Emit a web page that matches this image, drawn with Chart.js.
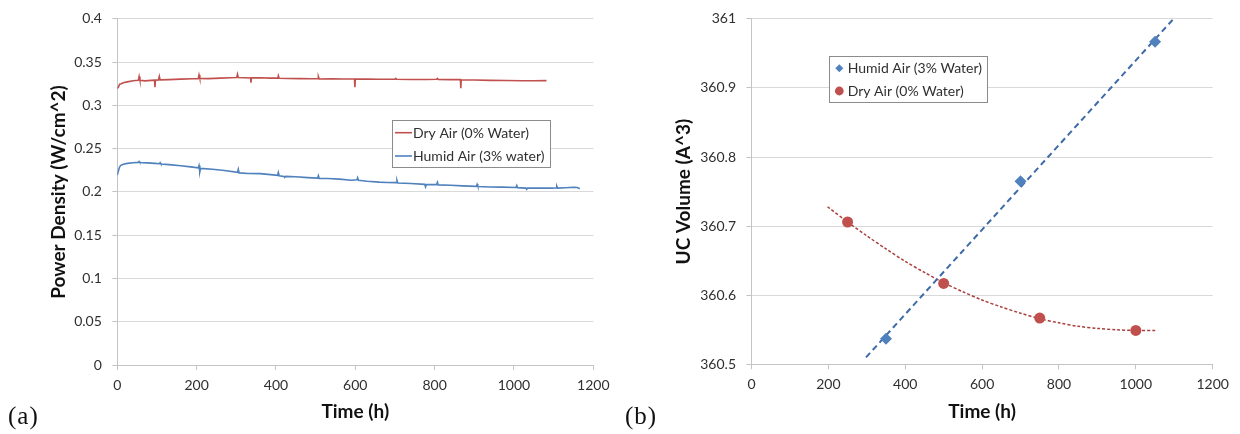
<!DOCTYPE html>
<html><head><meta charset="utf-8">
<script src="https://cdn.jsdelivr.net/npm/chart.js@4.4.1/dist/chart.umd.min.js"></script>
<style>
html,body{margin:0;padding:0;background:#fff;}
#wrap{position:relative;width:1240px;height:434px;overflow:hidden;background:#fff;}
canvas{position:absolute;top:0;}
.tag{position:absolute;font-family:"Liberation Serif","DejaVu Serif",serif;font-size:25px;color:#111;line-height:1;letter-spacing:1px;}
</style></head><body>
<div id="wrap">
<canvas id="c1" width="620" height="434" style="left:0"></canvas>
<canvas id="c2" width="620" height="434" style="left:620px"></canvas>
<div class="tag" style="left:8px;top:403px">(a)</div>
<div class="tag" style="left:625px;top:403px">(b)</div>
</div>
<script>
// ---------- Panel (a): power density vs time ----------
const seriesA = ['Dry Air (0% Water)', 'Humid Air (3% water)'];
const dryTime = [0,3,6,10,15,25,40,53,55,57,70,85,94,95,96,104,106,108,130,160,190,204,206,208,230,260,285,301,303,305,320,336,337,338,360,385,405,406,408,430,460,490,506,507,509,540,570,598,599,600,630,660,700,702,704,740,780,805,807,809,840,865,866,867,900,940,980,1020,1050,1082];
const dryPower = [0.3195,0.3215,0.3245,0.3250,0.3262,0.3272,0.3285,0.3290,0.3335,0.3290,0.3284,0.3290,0.3292,0.3210,0.3292,0.3295,0.3335,0.3295,0.3298,0.3304,0.3308,0.3310,0.3352,0.3312,0.3310,0.3316,0.3320,0.3322,0.3360,0.3322,0.3320,0.3318,0.3262,0.3318,0.3320,0.3316,0.3316,0.3342,0.3314,0.3312,0.3310,0.3308,0.3308,0.3333,0.3306,0.3308,0.3306,0.3305,0.3210,0.3305,0.3304,0.3302,0.3304,0.3312,0.3302,0.3300,0.3300,0.3302,0.3312,0.3300,0.3298,0.3298,0.3198,0.3297,0.3293,0.3290,0.3288,0.3286,0.3286,0.3287];
const humidTime = [0,2,5,8,15,25,40,53,55,57,75,95,106,108,110,130,160,185,204,206,208,210,240,270,303,305,307,330,360,380,404,406,408,420,422,424,450,480,505,507,509,530,560,590,604,606,608,630,660,680,703,705,707,740,775,777,779,805,807,809,840,870,905,907,909,940,970,1005,1007,1009,1030,1032,1034,1060,1090,1106,1108,1110,1130,1150,1160,1166];
const humidPower = [0.2195,0.2230,0.2280,0.2304,0.2320,0.2330,0.2338,0.2342,0.2352,0.2340,0.2336,0.2330,0.2326,0.2338,0.2322,0.2316,0.2302,0.2290,0.2278,0.2305,0.2232,0.2272,0.2262,0.2248,0.2226,0.2262,0.2220,0.2214,0.2212,0.2203,0.2192,0.2225,0.2188,0.2178,0.2168,0.2180,0.2176,0.2166,0.2160,0.2188,0.2156,0.2156,0.2148,0.2136,0.2140,0.2165,0.2134,0.2124,0.2114,0.2110,0.2108,0.2134,0.2104,0.2098,0.2088,0.2058,0.2086,0.2085,0.2112,0.2082,0.2078,0.2070,0.2064,0.2088,0.2062,0.2058,0.2056,0.2052,0.2075,0.2050,0.2044,0.2030,0.2044,0.2046,0.2044,0.2046,0.2066,0.2044,0.2048,0.2054,0.2052,0.2038];
const xTicksA = {min: 0, max: 1200, step: 200};
const yTicksA = {min: 0, max: 0.4, step: 0.05};

// ---------- Panel (b): UC volume vs time ----------
const seriesB = ['Humid Air (3% Water)', 'Dry Air (0% Water)'];
const humidXrdTime = [350, 700, 1050];
const humidVolume = [360.537, 360.765, 360.967];
const dryXrdTime = [250, 500, 750, 1000];
const dryVolume = [360.706, 360.617, 360.567, 360.549];
const humidTrendTime = [298, 1098];
const humidTrendVolume = [360.510, 361.000];
const dryTrendTime = [198,250,300,350,400,450,500,550,600,650,700,750,800,850,900,950,1000,1052];
const dryTrendVolume = [360.728,360.706,360.686,360.667,360.649,360.633,360.618,360.605,360.593,360.583,360.574,360.566,360.560,360.555,360.552,360.550,360.549,360.549];
const xTicksB = {min: 0, max: 1200, step: 200};
const yTicksB = {min: 360.5, max: 361, step: 0.1};

const RED = '#C0504D', BLUE = '#4F81BD';
const GRID = '#D9D9D9', AXIS = '#C4C4C4', TXT = '#303030';
const FONT = 'Lato, "Open Sans", sans-serif';

const pts = (xs, ys) => xs.map((x, i) => ({x: x, y: ys[i]}));

const boxLegend = {
  id: 'boxLegend',
  afterDatasetsDraw(chart, args, o) {
    if (!o || !o.items) return;
    const ctx = chart.ctx;
    ctx.save();
    ctx.fillStyle = '#fff';
    ctx.fillRect(o.x, o.y, o.w, o.h);
    ctx.strokeStyle = '#8C8C8C';
    ctx.lineWidth = 1;
    ctx.strokeRect(Math.round(o.x) + 0.5, Math.round(o.y) + 0.5, o.w, o.h);
    ctx.font = o.font;
    ctx.textBaseline = 'middle';
    ctx.textAlign = 'left';
    o.items.forEach((idx, i) => {
      const ds = chart.data.datasets[idx];
      const cy = o.y + o.rowTop + i * o.rowGap;
      const sx = o.x + o.symX;
      ctx.fillStyle = ds.borderColor;
      ctx.strokeStyle = ds.borderColor;
      if (ds.pointRadius === 0) {
        ctx.lineWidth = 1.6;
        ctx.beginPath();
        ctx.moveTo(sx, cy); ctx.lineTo(sx + o.lineLen, cy);
        ctx.stroke();
      } else if (ds.pointStyle === 'rectRot') {
        const r = o.diam;
        ctx.beginPath();
        ctx.moveTo(sx, cy - r); ctx.lineTo(sx + r, cy); ctx.lineTo(sx, cy + r); ctx.lineTo(sx - r, cy);
        ctx.closePath(); ctx.fill();
      } else {
        ctx.beginPath();
        ctx.arc(sx, cy, o.circ, 0, Math.PI * 2);
        ctx.fill();
      }
      ctx.fillStyle = TXT;
      ctx.fillText(ds.label, o.x + o.textX, cy + 0.5);
    });
    ctx.restore();
  }
};

function axisX(t, title, h) {
  return {
    type: 'linear', min: t.min, max: t.max,
    ticks: {stepSize: t.step, color: TXT, font: {family: FONT, size: 14}, padding: 7, maxRotation: 0,
      callback: v => String(v)},
    grid: {drawOnChartArea: false, drawTicks: true, tickLength: 5, color: AXIS, tickColor: AXIS},
    border: {display: true, color: AXIS, width: 1},
    title: {display: true, text: title, color: '#111', font: {family: FONT, size: 19, weight: 'bold'}, padding: {top: 0, bottom: 10.6}},
    afterFit(s) { s.height = h; }
  };
}
function axisY(t, title, w, tpad, dec) {
  return {
    type: 'linear', min: t.min, max: t.max,
    ticks: {stepSize: t.step, color: TXT, font: {family: FONT, size: 14}, padding: 10.5,
      callback: v => String(Number(v.toFixed(dec)))},
    grid: {color: GRID, tickColor: AXIS, drawTicks: true, tickLength: 5, lineWidth: 1},
    border: {display: true, color: AXIS, width: 1},
    title: {display: true, text: title, color: '#111', font: {family: FONT, size: 19, weight: 'bold'}, padding: {top: tpad, bottom: 0}},
    afterFit(s) { s.width = w; }
  };
}

new Chart(document.getElementById('c1'), {
  type: 'scatter',
  data: {datasets: [
    {label: seriesA[0], data: pts(dryTime, dryPower), showLine: true, borderColor: RED, backgroundColor: RED, borderWidth: 1.6, pointRadius: 0, tension: 0},
    {label: seriesA[1], data: pts(humidTime, humidPower), showLine: true, borderColor: BLUE, backgroundColor: BLUE, borderWidth: 1.6, pointRadius: 0, tension: 0}
  ]},
  options: {
    responsive: false, animation: false, events: [],
    layout: {padding: {left: 0, top: 16, right: 26.7, bottom: 0}},
    plugins: {
      legend: {display: false}, tooltip: {enabled: false},
      boxLegend: {x: 392, y: 120, w: 158, h: 47, rowTop: 12.7, rowGap: 23.3, symX: 3, lineLen: 17, textX: 21, font: '14px ' + FONT, items: [0, 1]}
    },
    scales: {
      x: axisX(xTicksA, 'Time (h)', 69),
      y: axisY(yTicksA, 'Power Density (W/cm^2)', 117.3, 47.6, 2)
    }
  },
  plugins: [boxLegend]
});

new Chart(document.getElementById('c2'), {
  type: 'scatter',
  data: {datasets: [
    {label: seriesB[0], data: pts(humidXrdTime, humidVolume), borderColor: BLUE, backgroundColor: BLUE, pointStyle: 'rectRot', pointRadius: 6, borderWidth: 0},
    {label: seriesB[1], data: pts(dryXrdTime, dryVolume), borderColor: RED, backgroundColor: RED, pointStyle: 'circle', pointRadius: 5.5, borderWidth: 0},
    {label: 'Linear (Humid Air)', data: pts(humidTrendTime, humidTrendVolume), showLine: true, borderColor: '#3D6AA8', borderWidth: 2, borderDash: [6, 4], pointRadius: 0, tension: 0},
    {label: 'Poly. (Dry Air)', data: pts(dryTrendTime, dryTrendVolume), showLine: true, borderColor: '#A8403D', borderWidth: 1.5, borderDash: [3, 2], pointRadius: 0, tension: 0.3}
  ]},
  options: {
    responsive: false, animation: false, events: [],
    layout: {padding: {left: 0, top: 16, right: 27.3, bottom: 0}},
    plugins: {
      legend: {display: false}, tooltip: {enabled: false},
      boxLegend: {x: 209, y: 56, w: 158, h: 46, rowTop: 12.3, rowGap: 22.7, symX: 10.3, diam: 4, circ: 4.4, textX: 18.7, font: '14px ' + FONT, items: [0, 1]}
    },
    scales: {
      x: axisX(xTicksB, 'Time (h)', 69.7),
      y: axisY(yTicksB, 'UC Volume (A^3)', 131.5, 52.1, 1)
    }
  },
  plugins: [boxLegend]
});
</script>
</body></html>
